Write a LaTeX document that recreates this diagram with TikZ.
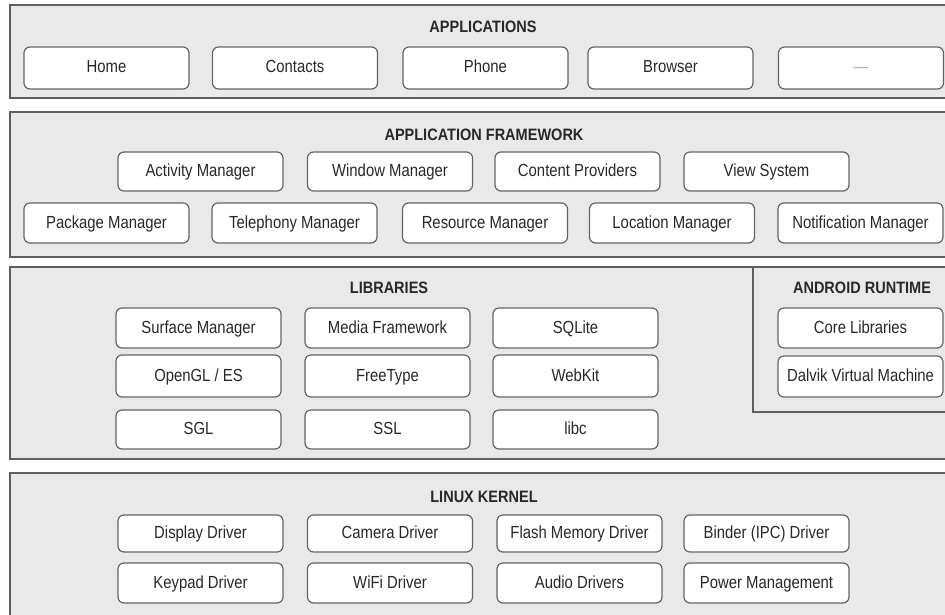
\documentclass[tikz,border=0pt]{standalone}
\usepackage{fontspec}
\setmainfont{Liberation Sans}
\newfontfamily\estrecha{Liberation Sans}[FakeStretch=0.85]
\newfontfamily\estrechaNegrita{Liberation Sans Bold}[FakeStretch=0.88]
\usepackage{tikz}
\usetikzlibrary{positioning}
\definecolor{capa}{RGB}{233,233,233}
\definecolor{bordeCapa}{RGB}{95,95,95}
\definecolor{bordeCaja}{RGB}{100,100,100}
\definecolor{texto}{RGB}{40,40,40}
\tikzstyle{layer}=[draw=bordeCapa, fill=capa, line width=2.2pt]
\tikzstyle{box}  =[rectangle, rounded corners=6pt, draw=bordeCaja,
                   fill=white, line width=1.2pt, minimum width=165pt,
                   minimum height=40pt, inner sep=0pt, text=texto,
                   text height=13pt, text depth=3pt,
                   font=\estrecha\fontsize{17.5}{20}\selectfont]
\tikzstyle{title}=[inner sep=0pt, text=texto,
                   font=\estrechaNegrita\fontsize{16.5}{19}\selectfont]

\begin{document}
\begin{tikzpicture}[x=1pt,y=-1pt]
    \clip (0,0) rectangle (945,615);
    \fill[white] (0,0) rectangle (945,615);

    % applications
    \draw[layer] (10,5) rectangle (960,98);
    \node[title] (apps) at (483,27) {APPLICATIONS};
    \foreach \x/\t [count=\i] in {106.5/Home,295/Contacts,485.5/Phone,670.5/Browser,861/{\color{gray!60}\textemdash}}
        \node[box, minimum height=42pt] (app\i) at (\x,68) {\t};

    % application framework
    \draw[layer] (10,112) rectangle (960,257);
    \node[title] (framework) at (484,135) {APPLICATION FRAMEWORK};
    \foreach \x/\t [count=\i] in {200.5/Activity Manager,390/Window Manager,577.5/Content Providers,766.5/View System}
        \node[box, minimum height=39pt] (fwa\i) at (\x,171.5) {\t};
    \foreach \x/\t [count=\i] in {106.5/Package Manager,294.5/Telephony Manager,485/Resource Manager,672/Location Manager,860.5/Notification Manager}
        \node[box] (fwb\i) at (\x,223) {\t};

    % libraries and android runtime
    \draw[layer] (10,267) rectangle (960,459);
    \draw[layer] (753,267) rectangle (960,412);
    \node[title] (libs) at (389,288) {LIBRARIES};
    \node[title] (runtime) at (862,288) {ANDROID RUNTIME};
    \foreach \x/\t [count=\i] in {198.5/Surface Manager,387.5/Media Framework,575.5/SQLite}
        \node[box] (liba\i) at (\x,328) {\t};
    \foreach \x/\t [count=\i] in {198.5/{OpenGL / ES},387.5/FreeType,575.5/WebKit}
        \node[box, minimum height=42pt] (libb\i) at (\x,376) {\t};
    \foreach \x/\t [count=\i] in {198.5/SGL,387.5/SSL,575.5/libc}
        \node[box, minimum height=39pt] (libc\i) at (\x,429.5) {\t};
    \node[box] (core) at (860.5,328) {Core Libraries};
    \node[box, minimum height=41pt] (dalvik) at (860.5,376.5) {Dalvik Virtual Machine};

    % linux kernel
    \draw[layer] (10,473) rectangle (960,630);
    \node[title] (kernel) at (484,497) {LINUX KERNEL};
    \foreach \x/\t [count=\i] in {200.5/Display Driver,390/Camera Driver,579.5/Flash Memory Driver,766.5/Binder (IPC) Driver}
        \node[box, minimum height=37pt] (drva\i) at (\x,533.5) {\t};
    \foreach \x/\t [count=\i] in {200.5/Keypad Driver,390/WiFi Driver,579.5/Audio Drivers,766.5/Power Management}
        \node[box] (drvb\i) at (\x,583) {\t};
\end{tikzpicture}
\end{document}
